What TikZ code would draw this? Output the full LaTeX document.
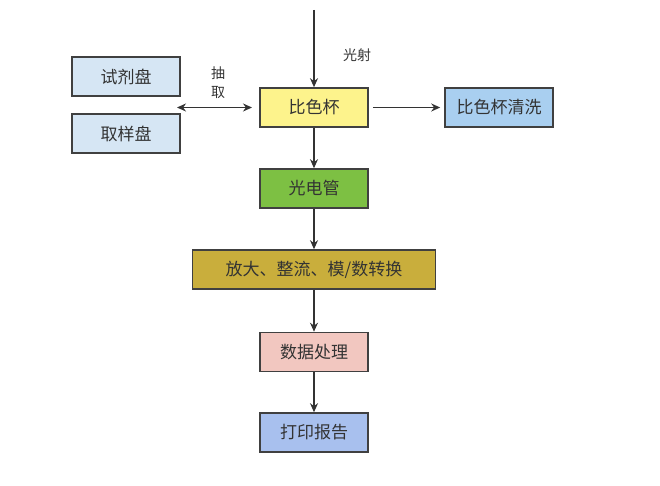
\documentclass[tikz,border=0pt]{standalone}
\usepackage{fontspec}
\setmainfont{Noto Sans CJK SC}
\usetikzlibrary{arrows.meta}
\definecolor{bl}{HTML}{D6E6F4}
\definecolor{bl2}{HTML}{A9CFF0}
\definecolor{ye}{HTML}{FDF38C}
\definecolor{gr}{HTML}{7DC043}
\definecolor{ol}{HTML}{C9AE3C}
\definecolor{pk}{HTML}{F2C7C0}
\definecolor{pb}{HTML}{A8C0EE}
\definecolor{tx}{HTML}{333333}
\tikzset{
 box/.style={draw=black!75,line width=1.6pt,font=\fontsize{17}{19}\selectfont,text=tx,inner sep=0pt},
 arr/.style={-{Stealth[length=9pt,width=8pt]},line width=1.4pt,draw=black!80},
 lbl/.style={font=\fontsize{14}{16}\selectfont,text=tx}
}
\begin{document}
\begin{tikzpicture}[x=1pt,y=-1pt]
\useasboundingbox (0,0) rectangle (660,486);
\node[box,fill=bl,minimum width=108pt,minimum height=39pt] (sj) at (126,76.5) {试剂盘};
\node[box,fill=bl,minimum width=108pt,minimum height=39pt] (qy) at (126,133.5) {取样盘};
\node[box,fill=ye,minimum width=108pt,minimum height=39pt] (bs) at (314,107.5) {比色杯};
\node[box,fill=bl2,minimum width=108pt,minimum height=39pt] (qx) at (499,107.5) {比色杯清洗};
\node[box,fill=gr,minimum width=108pt,minimum height=39pt] (gd) at (314,188.5) {光电管};
\node[box,fill=ol,minimum width=243pt,minimum height=39pt] (fd) at (314,269.5) {放大、整流、模/数转换};
\node[box,fill=pk,minimum width=108pt,minimum height=39pt] (sc) at (314,352) {数据处理};
\node[box,fill=pb,minimum width=108pt,minimum height=39pt] (dy) at (314,432.5) {打印报告};
\coordinate (top) at (314,10);
\coordinate (la) at (177,107.5);
\coordinate (lb) at (252,107.5);
\node[lbl] (gs) at (357,55) {光射};
\node[lbl,align=center,font=\fontsize{14}{19}\selectfont] (cq) at (218,83) {抽\\取};
\draw[arr] (top) -- (bs);
\draw[arr,{Stealth[length=9pt,width=8pt]}-{Stealth[length=9pt,width=8pt]}] (la) -- (lb);
\draw[arr] ([xshift=4pt]bs.east) -- ([xshift=-4pt]qx.west);
\draw[arr] (bs) -- (gd);
\draw[arr] (gd) -- (fd);
\draw[arr] (fd) -- (sc);
\draw[arr] (sc) -- (dy);
\end{tikzpicture}
\end{document}
